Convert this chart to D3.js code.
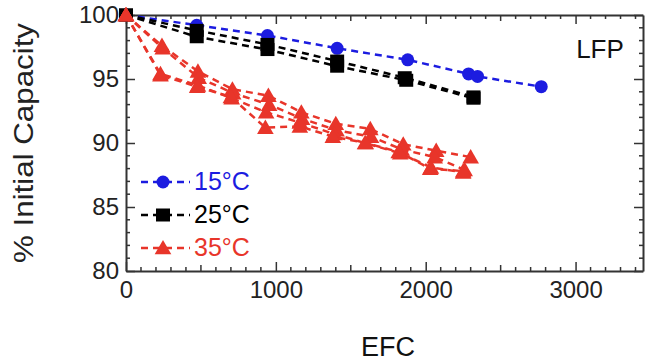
<!DOCTYPE html>
<html>
<head>
<meta charset="utf-8">
<script src="https://cdn.jsdelivr.net/npm/d3@7"></script>
<style>
  body { margin: 0; background: #fff; }
  text { font-family: "Liberation Sans", Arial, sans-serif; }
</style>
</head>
<body>
<svg id="chart" width="648" height="361"></svg>
<script>
// data: [EFC, % initial capacity]
const blue15 = [[0,100],[472,99.2],[944,98.4],[1409,97.4],[1880,96.5],[2286,95.4],[2346,95.2],[2771,94.4]];
const black25a = [[0,100],[472,98.8],[944,97.7],[1409,96.4],[1860,95.1],[2319,93.6]];
const black25b = [[0,100],[472,98.3],[944,97.3],[1409,96.0],[1870,94.9],[2319,93.5]];
const red35a = [[0,100],[240,97.6],[480,95.6],[710,94.2],[950,93.7],[1170,92.4],[1400,91.5],[1630,91.1],[1850,89.9],[2070,89.4],[2300,88.9]];
const red35b = [[0,100],[245,97.4],[485,95.1],[715,93.9],[955,93.0],[1175,91.9],[1405,91.0],[1635,90.5],[1840,89.5],[2060,88.9],[2260,87.9]];
const red35c = [[0,100],[230,95.4],[480,94.5],[705,93.5],[935,92.4],[1160,91.6],[1390,90.7],[1595,90.0],[1830,89.2],[2035,88.1],[2250,87.7]];
const red35d = [[0,100],[230,95.3],[475,94.4],[700,93.6],[930,91.2],[1160,91.3],[1380,90.5],[1600,90.0],[1820,89.3],[2030,88.0],[2250,87.8]];

const xMajor = [0, 1000, 2000, 3000];
const yMajor = [80, 85, 90, 95, 100];
const legendLabels = ["15°C", "25°C", "35°C"];

const BLUE = "#1c1ce0", BLACK = "#000", RED = "#e8352a";

const svg = d3.select("#chart");
const x = d3.scaleLinear().domain([0, 3450]).range([126, 643]);
const y = d3.scaleLinear().domain([80, 100]).range([271, 15]);

// minor ticks (all 4 sides, pointing in)
const xMinor = d3.range(0, 3401, 100).filter(d => d % 1000 !== 0);
const yMinor = d3.range(80, 101, 1).filter(d => d % 5 !== 0);
const tickLen = d => d % 500 === 0 ? 6 : 4;

const axisCol = "#333";
const ticks = svg.append("g").attr("stroke", axisCol).attr("stroke-width", 1.5);
xMinor.forEach(d => {
  ticks.append("line").attr("x1", x(d)).attr("x2", x(d)).attr("y1", y(80)).attr("y2", y(80) - tickLen(d));
  ticks.append("line").attr("x1", x(d)).attr("x2", x(d)).attr("y1", y(100)).attr("y2", y(100) + tickLen(d));
});
yMinor.forEach(d => {
  ticks.append("line").attr("y1", y(d)).attr("y2", y(d)).attr("x1", x.range()[0]).attr("x2", x.range()[0] + 4);
  ticks.append("line").attr("y1", y(d)).attr("y2", y(d)).attr("x1", x.range()[1]).attr("x2", x.range()[1] - 4);
});

// major axes
function styleAxis(g) {
  g.select(".domain").attr("stroke", axisCol).attr("stroke-width", 2);
  g.selectAll(".tick line").attr("stroke", axisCol).attr("stroke-width", 1.5);
  g.selectAll("text").attr("font-size", 24).attr("fill", "#222");
}
svg.append("g").attr("transform", `translate(0,${y(80)})`)
  .call(d3.axisBottom(x).tickValues(xMajor).tickSizeInner(-9).tickSizeOuter(0).tickPadding(10).tickFormat(d3.format("d")))
  .call(styleAxis);
svg.append("g").attr("transform", `translate(0,${y(100)})`)
  .call(d3.axisTop(x).tickValues(xMajor).tickSizeInner(-9).tickSizeOuter(0).tickFormat(""))
  .call(styleAxis);
svg.append("g").attr("transform", `translate(${x.range()[0]},0)`)
  .call(d3.axisLeft(y).tickValues(yMajor).tickSizeInner(-9).tickSizeOuter(0).tickPadding(7))
  .call(styleAxis);
svg.append("g").attr("transform", `translate(${x.range()[1]},0)`)
  .call(d3.axisRight(y).tickValues(yMajor).tickSizeInner(-9).tickSizeOuter(0).tickFormat(""))
  .call(styleAxis);

// axis titles
svg.append("text").attr("x", 388).attr("y", 356).attr("text-anchor", "middle")
  .attr("font-size", 27).attr("fill", "#111").text("EFC");
svg.append("text").attr("transform", "translate(33,143) rotate(-90)").attr("text-anchor", "middle")
  .attr("font-size", 27).attr("fill", "#222").attr("textLength", 240).attr("lengthAdjust", "spacingAndGlyphs")
  .text("% Initial Capacity");
svg.append("text").attr("x", 600).attr("y", 58).attr("text-anchor", "middle")
  .attr("font-size", 26).attr("fill", "#111").text("LFP");

// series
const line = d3.line().x(d => x(d[0])).y(d => y(d[1]));
const tri = d3.symbol().type(d3.symbolTriangle).size(120);
function drawSeries(data, color, shape) {
  const g = svg.append("g");
  g.append("path").datum(data).attr("d", line).attr("fill", "none")
    .attr("stroke", color).attr("stroke-width", 2.5).attr("stroke-dasharray", "7,5");
  const pts = g.selectAll("g.pt").data(data).join("g").attr("class", "pt")
    .attr("transform", d => `translate(${x(d[0])},${y(d[1])})`);
  marker(pts, color, shape);
}
function marker(sel, color, shape) {
  if (shape === "circle") sel.append("circle").attr("r", 6.5).attr("fill", color);
  else if (shape === "square") sel.append("rect").attr("x", -7).attr("y", -6.5).attr("width", 14).attr("height", 13).attr("fill", color);
  else sel.append("path").attr("d", tri).attr("transform", "translate(0,1.5)").attr("fill", color);
}
drawSeries(blue15, BLUE, "circle");
drawSeries(black25a, BLACK, "square");
drawSeries(black25b, BLACK, "square");
[red35a, red35b, red35c, red35d].forEach(s => drawSeries(s, RED, "triangle"));

// legend
const legendColors = [BLUE, BLACK, RED];
const legendShapes = ["circle", "square", "triangle"];
const lg = svg.append("g");
legendLabels.forEach((lab, i) => {
  const ly = 182 + i * 33;
  lg.append("line").attr("x1", 141).attr("x2", 190).attr("y1", ly).attr("y2", ly)
    .attr("stroke", legendColors[i]).attr("stroke-width", 2.5).attr("stroke-dasharray", "7,5");
  marker(lg.append("g").attr("transform", `translate(163,${ly})`), legendColors[i], legendShapes[i]);
  lg.append("text").attr("x", 194).attr("y", ly + 8).attr("font-size", 25)
    .attr("fill", legendColors[i]).text(lab);
});
</script>
</body>
</html>
